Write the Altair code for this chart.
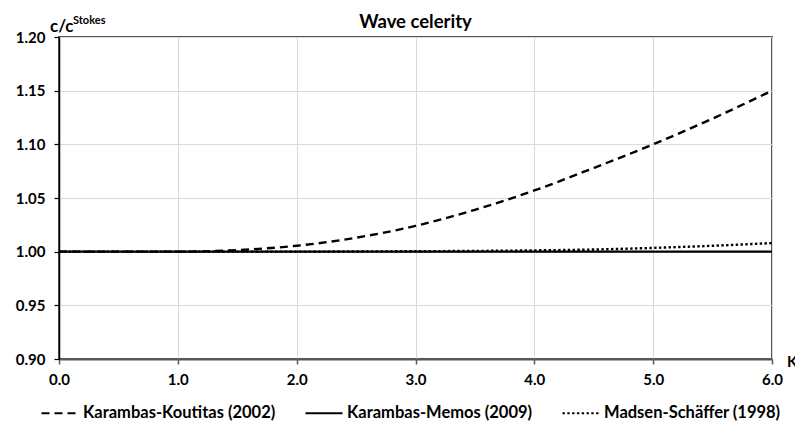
import altair as alt
import pandas as pd

# Data
k_values = [0.0, 0.5, 1.0, 1.5, 2.0, 2.5, 3.0, 3.5, 4.0, 4.5, 5.0, 5.5, 6.0]
karambas_koutitas = [1.000, 1.000, 1.000, 1.0015, 1.0055, 1.013, 1.024, 1.039, 1.057, 1.078, 1.100, 1.124, 1.150]
karambas_memos = [1.000, 1.000, 1.000, 1.000, 1.000, 1.000, 1.000, 1.000, 1.000, 1.000, 1.000, 1.000, 1.000]
madsen_schaffer = [1.000, 1.000, 1.000, 1.000, 1.000, 1.0002, 1.0004, 1.0007, 1.0012, 1.002, 1.0035, 1.0055, 1.008]

series_names = ["Karambas-Koutitas (2002)", "Karambas-Memos (2009)", "Madsen-Schäffer (1998)"]
series_dashes = [[8, 5], [1, 0], [2.4, 2.4]]
y_ticks = [0.90, 0.95, 1.00, 1.05, 1.10, 1.15, 1.20]
x_ticks = [0, 1, 2, 3, 4, 5, 6]

rows = []
for name, vals in zip(series_names, [karambas_koutitas, karambas_memos, madsen_schaffer]):
    for k, v in zip(k_values, vals):
        rows.append({"k": k, "c": v, "series": name})
df = pd.DataFrame(rows)

FONT = "Lato"

lines = alt.Chart(df).mark_line(color="black", strokeWidth=2.4, interpolate="monotone").encode(
    x=alt.X("k:Q", scale=alt.Scale(domain=[0, 6], nice=False),
            axis=alt.Axis(values=x_ticks, format=".1f", title=None, tickSize=5,
                          labelPadding=8, labelFlush=False, domainColor="#595959", domainWidth=2,
                          tickColor="#595959", tickWidth=1.5,
                          gridColor="#d9d9d9", gridWidth=1)),
    y=alt.Y("c:Q", scale=alt.Scale(domain=[0.90, 1.20], nice=False, zero=False),
            axis=alt.Axis(values=y_ticks, format=".2f", title=None, tickSize=5,
                          labelPadding=9, labelFlush=False, domainColor="black", domainWidth=1.5,
                          tickColor="black", tickWidth=1.2,
                          gridColor="#d9d9d9", gridWidth=1)),
    strokeDash=alt.StrokeDash("series:N",
        scale=alt.Scale(domain=series_names, range=series_dashes),
        legend=alt.Legend(orient="none", legendX=-19, legendY=356, direction="horizontal",
                          title=None, symbolType="stroke", symbolSize=1369,
                          symbolStrokeWidth=2.2, symbolStrokeColor="black",
                          labelFont=FONT, labelFontSize=16.5, labelFontWeight="bold",
                          labelColor="black", labelOffset=3, labelLimit=400,
                          columnPadding=25, padding=0)),
)

title = alt.Chart().mark_text(text="Wave celerity", font=FONT, fontSize=18.5, fontWeight="bold",
                              align="center", baseline="alphabetic", color="black").encode(
    x=alt.value(356.5), y=alt.value(-9))
ylabel_main = alt.Chart().mark_text(text="c/c", font=FONT, fontSize=17, fontWeight="bold",
                                    align="left", baseline="alphabetic", color="black").encode(
    x=alt.value(-9), y=alt.value(-5))
ylabel_sup = alt.Chart().mark_text(text="Stokes", font=FONT, fontSize=11, fontWeight="bold",
                                   align="left", baseline="alphabetic", color="black").encode(
    x=alt.value(14), y=alt.value(-13))
xlabel = alt.Chart().mark_text(text="K", font=FONT, fontSize=15, fontWeight="bold",
                               align="left", baseline="middle", color="black").encode(
    x=alt.value(728), y=alt.value(325))

chart = alt.layer(lines, title, ylabel_main, ylabel_sup, xlabel).properties(
    width=713, height=322,
    autosize=alt.AutoSizeParams(type="none"),
    padding={"left": 59, "top": 37, "right": 23, "bottom": 71},
).configure_view(
    stroke="#595959", strokeWidth=2
).configure_axis(
    labelFont=FONT, labelFontSize=15, labelFontWeight="bold", labelColor="black"
)

chart.save("out.html", embed_options={"renderer": "svg", "actions": False})
